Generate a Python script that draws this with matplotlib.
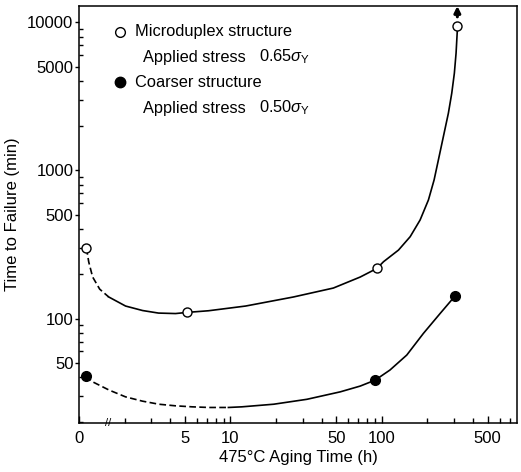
import matplotlib
matplotlib.use("Agg")
import matplotlib.pyplot as plt
import matplotlib.ticker as mticker
import matplotlib.transforms as mtransforms

plt.rcParams["font.family"] = ["Liberation Sans", "DejaVu Sans"]
plt.rcParams["mathtext.fontset"] = "custom"
plt.rcParams["mathtext.rm"] = "Liberation Sans"
plt.rcParams["mathtext.it"] = "Liberation Sans:italic"

# measured points (x=1.1 stands for the "0" aging time position)
micro_x = [1.12, 5.2, 92.7, 315]
micro_y = [299, 110, 218, 9510]
coarse_x = [1.11, 90.3, 304]
coarse_y = [41.1, 38.4, 142]

# hand-drawn trend curves
micro_dash_x = [1.12, 1.16, 1.23, 1.37, 1.57]
micro_dash_y = [299, 241, 191, 158, 140]
micro_line_x = [1.57, 2.03, 2.63, 3.35, 4.34, 5.2, 7.16, 12.6, 26.0, 47.8, 71.9, 92.7,
                102.5, 128.7, 153.7, 178.8, 202.9, 221.2, 236.1, 257.5, 274.8,
                289.3, 301.0, 308.9, 315]
micro_line_y = [140, 121.5, 113.3, 108.9, 108.1, 110.1, 112.9, 121.5, 139.8, 160.7, 190.7, 218,
                242, 290, 357, 463, 632, 863, 1178, 1784, 2435,
                3323, 4538, 6194, 8900]
coarse_dash_x = [1.11, 1.23, 1.58, 2.03, 2.62, 3.37, 4.34, 5.59, 7.19, 9.7]
coarse_dash_y = [41.1, 37.4, 32.9, 29.6, 27.7, 26.4, 25.75, 25.35, 25.1, 25.1]
coarse_line_x = [9.7, 11.9, 19.3, 32.0, 53.1, 71.9, 90.3, 113, 146, 188, 242, 304]
coarse_line_y = [25.1, 25.35, 26.4, 28.5, 32.0, 35.0, 38.4, 44.9, 56.7, 79.4, 108, 142]

x_major = [5, 10, 50, 100, 500]
x_labels = ["5", "10", "50", "100", "500"]
y_major = [50, 100, 500, 1000, 5000, 10000]
y_labels = ["50", "100", "500", "1000", "5000", "10000"]

fig = plt.figure(figsize=(5.21, 4.72), dpi=100)
ax = fig.add_axes([0.1516, 0.1044, 0.8407, 0.8829])
ax.set_xscale("log")
ax.set_yscale("log")
x_left, x_right = 1.0, 780
ax.set_xlim(x_left, x_right)
ax.set_ylim(19.8, 12900)

lw = 1.2
ax.plot(micro_dash_x, micro_dash_y, color="black", lw=lw, dashes=(4, 2))
ax.plot(micro_line_x, micro_line_y, color="black", lw=lw)
ax.plot(coarse_dash_x, coarse_dash_y, color="black", lw=lw, dashes=(4, 2))
ax.plot(coarse_line_x, coarse_line_y, color="black", lw=lw)

ax.plot(micro_x, micro_y, "o", ms=6.5, mfc="white", mec="black", mew=1.0, zorder=5,
        clip_on=False)
ax.plot(coarse_x, coarse_y, "o", ms=7, mfc="black", mec="black", zorder=5, clip_on=False)

# arrow: the last microduplex specimen did not fail
ax.annotate("", xy=(micro_x[-1], 12900), xytext=(micro_x[-1], 10900),
            arrowprops=dict(arrowstyle="-|>", color="black", lw=2.2, mutation_scale=9,
                            shrinkA=0, shrinkB=0))

ax.xaxis.set_major_locator(mticker.FixedLocator([x_left] + x_major))
ax.xaxis.set_major_formatter(mticker.FixedFormatter(["0"] + x_labels))
ax.xaxis.set_minor_locator(mticker.LogLocator(base=10, subs=range(2, 10), numticks=20))
ax.xaxis.set_minor_formatter(mticker.NullFormatter())
ax.yaxis.set_major_locator(mticker.FixedLocator(y_major))
ax.yaxis.set_major_formatter(mticker.FixedFormatter(y_labels))
ax.yaxis.set_minor_locator(mticker.LogLocator(base=10, subs=range(2, 10), numticks=20))
ax.yaxis.set_minor_formatter(mticker.NullFormatter())

ax.tick_params(axis="x", which="major", direction="in", length=5, width=1, labelsize=12, pad=6)
ax.tick_params(axis="x", which="minor", direction="in", length=3.5, width=1)
ax.tick_params(axis="y", which="major", direction="out", length=3, width=1, labelsize=12, pad=1)
ax.tick_params(axis="y", which="minor", direction="in", length=3, width=1)

for s in ax.spines.values():
    s.set_linewidth(1.1)

# axis break marks
trans = mtransforms.blended_transform_factory(ax.transData, ax.transAxes)
ax.text(1.55, 0.0, "//", transform=trans, ha="center", va="center", fontsize=8,
        clip_on=False)

ax.set_xlabel("475°C Aging Time (h)", fontsize=12, labelpad=3)
ax.set_ylabel("Time to Failure (min)", fontsize=12, labelpad=5)

# legend written in the plot
ax.plot([0.0936], [0.9376], "o", ms=7, mfc="white", mec="black", transform=ax.transAxes)
ax.plot([0.0936], [0.8176], "o", ms=7.5, mfc="black", mec="black", transform=ax.transAxes)
ax.text(0.128, 0.9376, "Microduplex structure", transform=ax.transAxes, fontsize=11.8,
        va="center")
ax.text(0.128, 0.8176, "Coarser structure", transform=ax.transAxes, fontsize=11.8,
        va="center")
ax.text(0.146, 0.8776, "Applied stress", transform=ax.transAxes, fontsize=11.8, va="center")
ax.text(0.146, 0.7552, "Applied stress", transform=ax.transAxes, fontsize=11.8, va="center")
ax.text(0.41, 0.8776, r"0.65$\sigma_{\rm Y}$", transform=ax.transAxes, fontsize=11.8,
        va="center")
ax.text(0.41, 0.7552, r"0.50$\sigma_{\rm Y}$", transform=ax.transAxes, fontsize=11.8,
        va="center")

fig.savefig("out.png", dpi=100)
